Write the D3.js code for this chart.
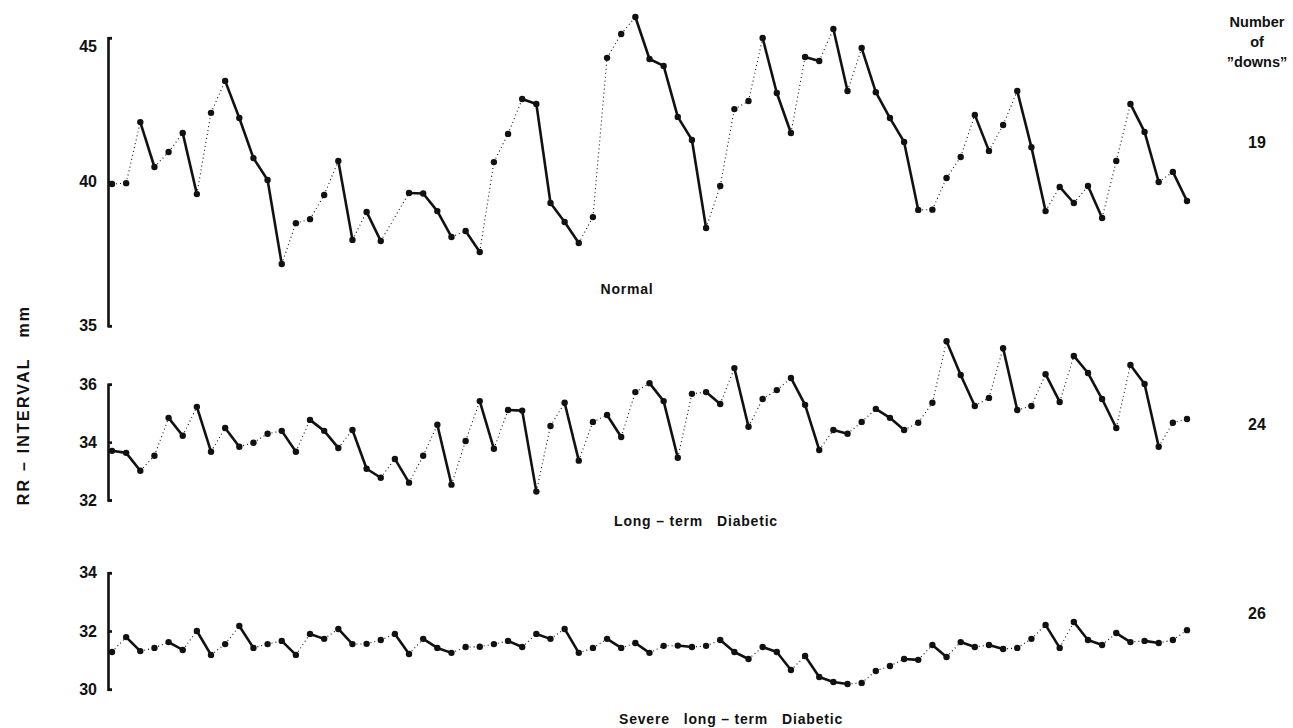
<!DOCTYPE html>
<html>
<head>
<meta charset="utf-8">
<script src="https://cdn.jsdelivr.net/npm/d3@7"></script>
<style>
  body { margin: 0; background: #fff; }
  svg text { font-family: "Liberation Sans", Arial, sans-serif; font-weight: bold; fill: #111; }
</style>
</head>
<body>
<svg id="chart" width="1293" height="728"></svg>
<script>
// RR interval (mm) per beat. null = no dot drawn at that beat
var normal = [39.92, 39.95, 42.07, 40.51, 41.03, 41.69, 39.57, 42.39, 43.50, 42.21,
  40.82, 40.06, 37.14, 38.56, 38.70, 39.54, 40.72, 37.98, 38.95, 37.94,
  null, 39.61, 39.59, 38.98, 38.08, 38.29, 37.56, 40.68, 41.66, 42.87,
  42.70, 39.26, 38.60, 37.87, 38.77, 44.30, 45.13, 45.72, 44.26, 44.02,
  42.25, 41.45, 38.39, 39.85, 42.52, 42.80, 44.99, 43.08, 41.69, 44.33,
  44.19, 45.30, 43.15, 44.64, 43.11, 42.21, 41.38, 39.02, 39.03, 40.13,
  40.86, 42.32, 41.07, 41.97, 43.15, 41.20, 38.98, 39.82, 39.26, 39.85,
  38.74, 40.72, 42.70, 41.73, 39.99, 40.34, 39.33];

var longTerm = [33.70, 33.63, 33.01, 33.53, 34.84, 34.22, 35.22, 33.67, 34.49, 33.84,
  33.98, 34.29, 34.39, 33.67, 34.77, 34.39, 33.80, 34.42, 33.08, 32.77,
  33.42, 32.60, 33.53, 34.60, 32.53, 34.04, 35.42, 33.77, 35.11, 35.09,
  32.29, 34.56, 35.36, 33.36, 34.70, 34.94, 34.18, 35.73, 36.04, 35.42,
  33.46, 35.67, 35.73, 35.32, 36.56, 34.53, 35.49, 35.80, 36.22, 35.29,
  33.73, 34.42, 34.29, 34.70, 35.15, 34.84, 34.42, 34.67, 35.36, 37.49,
  36.32, 35.25, 35.53, 37.25, 35.11, 35.25, 36.35, 35.39, 36.98, 36.39,
  35.49, 34.49, 36.67, 36.01, 33.84, 34.67, 34.80];

var severe = [31.28, 31.79, 31.31, 31.42, 31.62, 31.35, 32.00, 31.18, 31.55, 32.17,
  31.42, 31.55, 31.66, 31.18, 31.90, 31.73, 32.07, 31.55, 31.56, 31.69,
  31.90, 31.21, 31.73, 31.42, 31.25, 31.45, 31.46, 31.55, 31.66, 31.45,
  31.90, 31.73, 32.07, 31.25, 31.42, 31.73, 31.42, 31.59, 31.25, 31.49,
  31.50, 31.45, 31.49, 31.69, 31.28, 31.04, 31.45, 31.28, 30.66, 31.14,
  30.42, 30.25, 30.18, 30.22, 30.63, 30.80, 31.04, 31.01, 31.52, 31.11,
  31.62, 31.45, 31.52, 31.38, 31.42, 31.73, 32.21, 31.42, 32.31, 31.69,
  31.52, 31.93, 31.62, 31.66, 31.59, 31.69, 32.03];

var panelNames = ["Normal", "Long \u2013 term   Diabetic", "Severe   long \u2013 term   Diabetic"];
var downCounts = ["19", "24", "26"];
var tickSets = [[35, 40, 45], [32, 34, 36], [30, 32, 34]];

var svg = d3.select("#chart");

var x = d3.scaleLinear().domain([0, normal.length - 1]).range([112, 1187]);

var panels = [
  { data: normal,   domain: [35, 45], range: [325.7, 37.7], label: [627, 294], count: 148 },
  { data: longTerm, domain: [32, 36], range: [500, 384.3],  label: [696, 526], count: 430 },
  { data: severe,   domain: [30, 34], range: [689.3, 572.7], label: [731, 724], count: 619 }
];

panels.forEach(function(p, k) {
  var y = d3.scaleLinear().domain(p.domain).range(p.range);

  var axis = d3.axisLeft(y).tickValues(tickSets[k]).tickSizeInner(-4).tickSizeOuter(-4).tickPadding(11)
      .tickFormat(d3.format("d"));
  var g = svg.append("g").attr("transform", "translate(108,0)").call(axis);
  g.select(".domain").attr("stroke", "#111").attr("stroke-width", 2.6);
  g.selectAll(".tick line").attr("stroke", "#111").attr("stroke-width", 2.6);
  g.selectAll(".tick text").attr("font-size", 16).attr("fill", "#111")
      .style("font-family", "'Liberation Sans', Arial, sans-serif").style("font-weight", "bold");
  // the top label of the first panel sits a little below its tick
  if (k === 0) g.selectAll(".tick text").filter(function(d) { return d === 45; }).attr("dy", "0.85em");

  // points that have a dot
  var pts = [];
  p.data.forEach(function(v, i) { if (v != null) pts.push({ i: i, v: v }); });

  var segs = d3.pairs(pts);
  svg.append("g").selectAll("line").data(segs).enter().append("line")
      .attr("x1", function(d) { return x(d[0].i); })
      .attr("y1", function(d) { return y(d[0].v); })
      .attr("x2", function(d) { return x(d[1].i); })
      .attr("y2", function(d) { return y(d[1].v); })
      .attr("stroke", "#111")
      .attr("stroke-width", function(d) { return d[1].v < d[0].v ? 2.6 : 1.1; })
      .attr("stroke-dasharray", function(d) { return d[1].v < d[0].v ? null : "1,3"; });

  svg.append("g").selectAll("circle").data(pts).enter().append("circle")
      .attr("cx", function(d) { return x(d.i); })
      .attr("cy", function(d) { return y(d.v); })
      .attr("r", 3.2)
      .attr("fill", "#111");

  svg.append("text").attr("x", p.label[0]).attr("y", p.label[1])
      .attr("text-anchor", "middle").attr("font-size", 14)
      .style("white-space", "pre").attr("letter-spacing", 0.8)
      .text(panelNames[k]);

  svg.append("text").attr("x", 1257).attr("y", p.count)
      .attr("text-anchor", "middle").attr("font-size", 16)
      .text(downCounts[k]);
});

// header on the right
["Number", "of", "\u201Ddowns\u201D"].forEach(function(t, i) {
  svg.append("text").attr("x", 1257).attr("y", 27 + i * 20)
      .attr("text-anchor", "middle").attr("font-size", 14.5).text(t);
});

// y axis title
svg.append("text")
    .attr("transform", "translate(29,405) rotate(-90)")
    .attr("text-anchor", "middle").attr("font-size", 16)
    .attr("letter-spacing", 2.2)
    .style("white-space", "pre")
    .text("RR \u2013 INTERVAL   mm");
</script>
</body>
</html>
